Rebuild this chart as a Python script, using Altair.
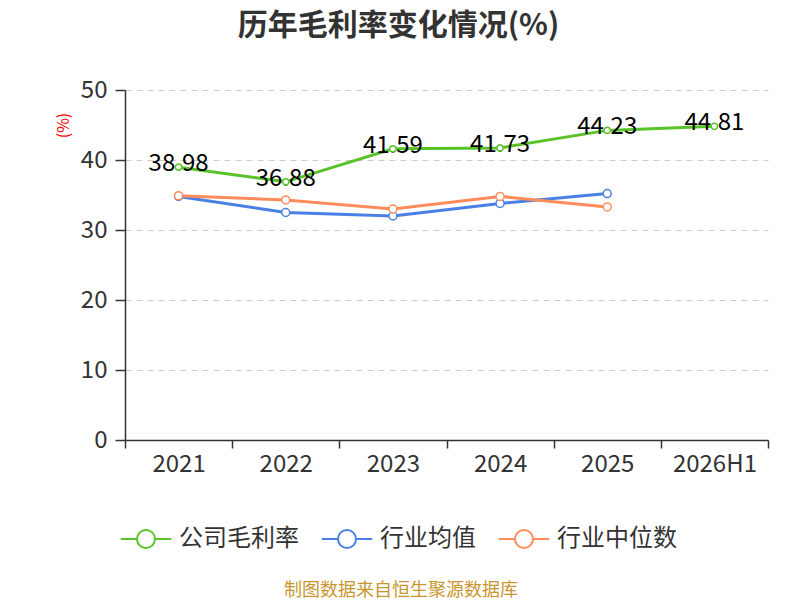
import altair as alt
import pandas as pd

years = ["2021", "2022", "2023", "2024", "2025", "2026H1"]
company = [38.98, 36.88, 41.59, 41.73, 44.23, 44.81]
ind_avg = [34.8, 32.5, 32.0, 33.8, 35.2, None]
ind_med = [34.9, 34.3, 33.0, 34.8, 33.3, None]
series_names = ["公司毛利率", "行业均值", "行业中位数"]
colors = ["#5ac229", "#4a80e4", "#ff8c5a"]
title_text = "历年毛利率变化情况(%)"
source_text = "制图数据来自恒生聚源数据库"

rows = []
for name, vals in zip(series_names, [company, ind_avg, ind_med]):
    for y, v in zip(years, vals):
        if v is not None:
            rows.append({"year": y, "value": v, "series": name})
df = pd.DataFrame(rows)

FONT = "Noto Sans CJK SC"

x_enc = alt.X(
    "year:N",
    sort=years,
    scale=alt.Scale(type="band", domain=years, paddingInner=0, paddingOuter=0),
    axis=alt.Axis(
        title=None, labelAngle=0, tickBand="extent", labelFontSize=24, labelFont=FONT,
        labelColor="#333", domainColor="#333", domainWidth=1.5, tickColor="#333",
        tickWidth=1.5, tickSize=8, labelPadding=4, grid=False,
    ),
)
y_enc = alt.Y(
    "value:Q",
    scale=alt.Scale(domain=[0, 50], nice=False),
    axis=alt.Axis(
        values=[0, 10, 20, 30, 40, 50], title="(%)", titleColor="red", titleFontSize=16,
        titleFont=FONT, titleFontWeight="normal", titleX=-62, titleY=35, titleAlign="center",
        titleBaseline="middle", titleAngle=-90,
        labelFontSize=24, labelFont=FONT, labelColor="#333", labelPadding=8,
        domainColor="#333", domainWidth=1.5, tickColor="#333", tickWidth=1.5, tickSize=10,
        grid=True, gridColor="#cccccc", gridDash=[6, 5], gridWidth=1.2,
    ),
)

sym_path = "M-2.8,0L-1,0M1,0L2.8,0M1,0A1,1,0,1,1,-1,0A1,1,0,1,1,1,0Z"

color_enc = alt.Color(
    "series:N",
    sort=series_names,
    scale=alt.Scale(domain=series_names, range=colors),
    legend=alt.Legend(
        title=None, orient="none", legendX=9, legendY=437, direction="horizontal",
        symbolType=sym_path, symbolSize=324, symbolStrokeWidth=2, symbolFillColor="white",
        labelFontSize=24, labelFont=FONT, labelColor="#333", labelOffset=21,
        columnPadding=18, labelLimit=300,
    ),
)
stroke_enc = alt.Stroke("series:N", scale=alt.Scale(domain=series_names, range=colors), legend=None)

base = alt.Chart(df)

lines = base.mark_line(strokeWidth=3).encode(x=x_enc, y=y_enc, color=color_enc)

labels = base.transform_filter(alt.datum.series == "公司毛利率").mark_text(
    fontSize=24, font=FONT, color="black", baseline="middle", align="center", dy=-3
).encode(x=x_enc, y=y_enc, text=alt.Text("value:Q", format=".2f"))

points_c = base.transform_filter(alt.datum.series == "公司毛利率").mark_point(
    filled=True, fill="white", strokeWidth=1.5, opacity=1, shape="circle", size=40
).encode(x=x_enc, y=y_enc, stroke=stroke_enc)

points_i = base.transform_filter(alt.datum.series != "公司毛利率").mark_point(
    filled=True, fill="white", strokeWidth=1.5, opacity=1, shape="circle", size=64
).encode(x=x_enc, y=y_enc, stroke=stroke_enc)

source = alt.Chart(pd.DataFrame({"t": [source_text]})).mark_text(
    fontSize=18, font=FONT, color="#c8962e", align="center", baseline="middle"
).encode(text="t:N", x=alt.value(276), y=alt.value(501))

chart = alt.layer(lines, labels, points_i, points_c, source).properties(
    width=643, height=350,
    title=alt.TitleParams(
        text=title_text, fontSize=30, font=FONT, fontWeight="bold", color="#333",
        anchor="middle", dx=-48, offset=37,
    ),
    autosize=alt.AutoSizeParams(type="none"),
    padding={"left": 117, "top": 82, "right": 24, "bottom": 160},
).configure_view(stroke=None)

chart.save("out.html", embed_options={"renderer": "svg", "actions": False})
